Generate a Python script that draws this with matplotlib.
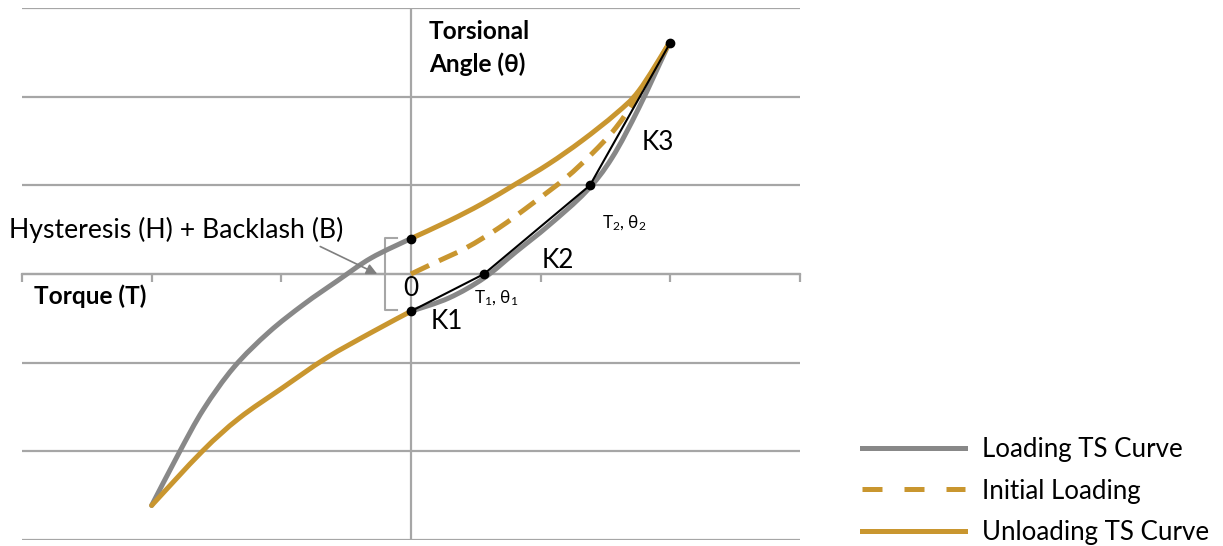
import matplotlib
matplotlib.use("Agg")
import numpy as np
import matplotlib.pyplot as plt
from matplotlib.lines import Line2D
from matplotlib.path import Path
from matplotlib.patches import PathPatch

# ---- data (torque T, torsional angle theta) ----
loading_left_T = [-2.0, -1.79, -1.60, -1.365, -1.095, -0.825, -0.571, -0.308, 0.0]
loading_left_th = [-2.61, -2.02, -1.525, -1.05, -0.655, -0.34, -0.08, 0.18, 0.40]

loading_right_T = [0.0, 0.293, 0.563, 0.81, 1.064, 1.35, 1.55, 1.758, 1.99]
loading_right_th = [-0.42, -0.27, -0.045, 0.25, 0.55, 0.93, 1.31, 1.876, 2.6]

unloading_upper_T = [0.0, 0.293, 0.547, 0.81, 1.064, 1.318, 1.58, 1.758, 1.99]
unloading_upper_th = [0.40, 0.599, 0.791, 1.017, 1.243, 1.503, 1.808, 2.068, 2.6]

unloading_lower_T = [0.0, -0.30, -0.655, -0.995, -1.326, -1.61, -2.0]
unloading_lower_th = [-0.42, -0.655, -0.949, -1.288, -1.627, -2.0, -2.61]

initial_T = [0.0, 0.162, 0.424, 0.678, 0.933, 1.195, 1.395, 1.58, 1.758, 1.99]
initial_th = [0.0, 0.113, 0.294, 0.52, 0.791, 1.085, 1.356, 1.65, 2.03, 2.6]

stiffness_T = [0.0, 0.563, 1.38, 2.0]
stiffness_th = [-0.42, 0.0, 1.0, 2.61]

hyst_T = 0.0
hyst_upper = 0.40
hyst_lower = -0.42

x_ticks = [-3, -2, -1, 0, 1, 2, 3]
y_grid = [-3, -2, -1, 0, 1, 2, 3]

legend_labels = ["Loading TS Curve", "Initial Loading", "Unloading TS Curve"]

GRAY = "#888888"
GOLD = "#C9962F"
GRID = "#A6A6A6"

plt.rcParams['font.family'] = ['Lato', 'Open Sans', 'DejaVu Sans']
plt.rcParams['mathtext.fontset'] = 'custom'
plt.rcParams['mathtext.rm'] = 'Lato'
plt.rcParams['mathtext.it'] = 'Lato:italic'


def smooth_patch(xs, ys, **kw):
    """Smoothed line (like a spreadsheet 'smoothed line') through the given points,
    drawn as cubic Bezier segments by matplotlib in data coordinates."""
    P = np.column_stack([xs, ys]).astype(float)
    n = len(P)
    verts = [P[0]]
    codes = [Path.MOVETO]
    for i in range(n - 1):
        p0 = P[i - 1] if i > 0 else P[i]
        p1 = P[i]
        p2 = P[i + 1]
        p3 = P[i + 2] if i + 2 < n else P[i + 1]
        c1 = p1 + (p2 - p0) / 6.0
        c2 = p2 - (p3 - p1) / 6.0
        verts += [c1, c2, p2]
        codes += [Path.CURVE4] * 3
    return PathPatch(Path(verts, codes), fill=False, **kw)


fig = plt.figure(figsize=(12.23, 5.46), dpi=100)
ax = fig.add_axes([22/1223, 6/546, (800-22)/1223, (540-8)/546])
ax.set_xlim(-3, 3)
ax.set_ylim(-3, 3)
for s in ax.spines.values():
    s.set_visible(False)

# grid and axes
for yv in y_grid:
    ax.axhline(yv, color=GRID, lw=1.6, zorder=0)
ax.axvline(0, color=GRID, lw=1.6, zorder=0)
ax.set_xticks(x_ticks)
ax.set_xticklabels([])
ax.set_yticks([])
ax.tick_params(axis='x', direction='out', length=6, width=1.6, color=GRID)
ax.spines['bottom'].set_position(('data', 0))
ax.spines['bottom'].set_visible(True)
ax.spines['bottom'].set_color(GRID)
ax.spines['bottom'].set_linewidth(1.6)

lw = 3.6
common = dict(linewidth=lw, capstyle='round', joinstyle='round', zorder=3)
ax.add_patch(smooth_patch(loading_left_T, loading_left_th, edgecolor=GRAY, **common))
ax.add_patch(smooth_patch(loading_right_T, loading_right_th, edgecolor=GRAY, **common))
ax.add_patch(smooth_patch(unloading_upper_T, unloading_upper_th, edgecolor=GOLD, **common))
ax.add_patch(smooth_patch(unloading_lower_T, unloading_lower_th, edgecolor=GOLD, **common))
ax.add_patch(smooth_patch(initial_T, initial_th, edgecolor=GOLD, linewidth=lw,
                          linestyle=(0, (4, 2.2)), capstyle='butt', zorder=3))
ax.plot(stiffness_T, stiffness_th, color='black', lw=1.5, marker='o', ms=6, zorder=5)
ax.plot([hyst_T], [hyst_upper], color='black', marker='o', ms=6, ls='none', zorder=5)

# bracket
bx = -0.2
ax.plot([bx + 0.09, bx, bx, bx + 0.09], [hyst_upper + 0.01, hyst_upper + 0.01, hyst_lower + 0.01, hyst_lower + 0.01],
        color=GRID, lw=1.5, zorder=2)
ax.plot([bx, bx - 0.06], [0, 0], color=GRID, lw=1.5, zorder=2)
ax.annotate("", xy=(bx - 0.06, 0.0), xytext=(-0.70, 0.31),
            arrowprops=dict(arrowstyle='-|>', color='#7f7f7f', lw=1.2, mutation_scale=16,
                            shrinkA=0, shrinkB=0), zorder=4)

fs = 18.8
fsb = 17.6
ax.text(-3.1, 0.50, "Hysteresis (H) + Backlash (B)", fontsize=19.2, ha='left', va='center', clip_on=False)
ax.text(-2.907, -0.25, "Torque (T)", fontsize=fsb, fontweight='bold', ha='left', va='center')
ax.text(0.139, 2.55, "Torsional\nAngle (θ)", fontsize=fsb, fontweight='bold', ha='left', va='center',
        linespacing=1.49)
ax.text(0.0, -0.16, "0", fontsize=fs, ha='center', va='center')
ax.text(0.154, -0.54, "K1", fontsize=fs, ha='left', va='center')
ax.text(1.01, 0.147, "K2", fontsize=fs, ha='left', va='center')
ax.text(1.78, 1.48, "K3", fontsize=fs, ha='left', va='center')
ax.text(0.486, -0.27, r"T$_{\mathrm{1}}$, θ$_{\mathrm{1}}$", fontsize=12.3, ha='left', va='center')
ax.text(1.47, 0.576, r"T$_{\mathrm{2}}$, θ$_{\mathrm{2}}$", fontsize=12.3, ha='left', va='center')

handles = [Line2D([], [], color=GRAY, lw=lw),
           Line2D([], [], color=GOLD, lw=lw, dashes=(4, 4.4)),
           Line2D([], [], color=GOLD, lw=lw)]
fs_leg = 18.6
fs_px = fs_leg * 100 / 72
fig.legend(handles, legend_labels, loc='center left',
           bbox_to_anchor=(862/1223, (546-491)/546), frameon=False, fontsize=fs_leg,
           handlelength=103/fs_px, handletextpad=17/fs_px, borderpad=0, borderaxespad=0,
           labelspacing=0.65)

fig.savefig("out.png", dpi=100)
